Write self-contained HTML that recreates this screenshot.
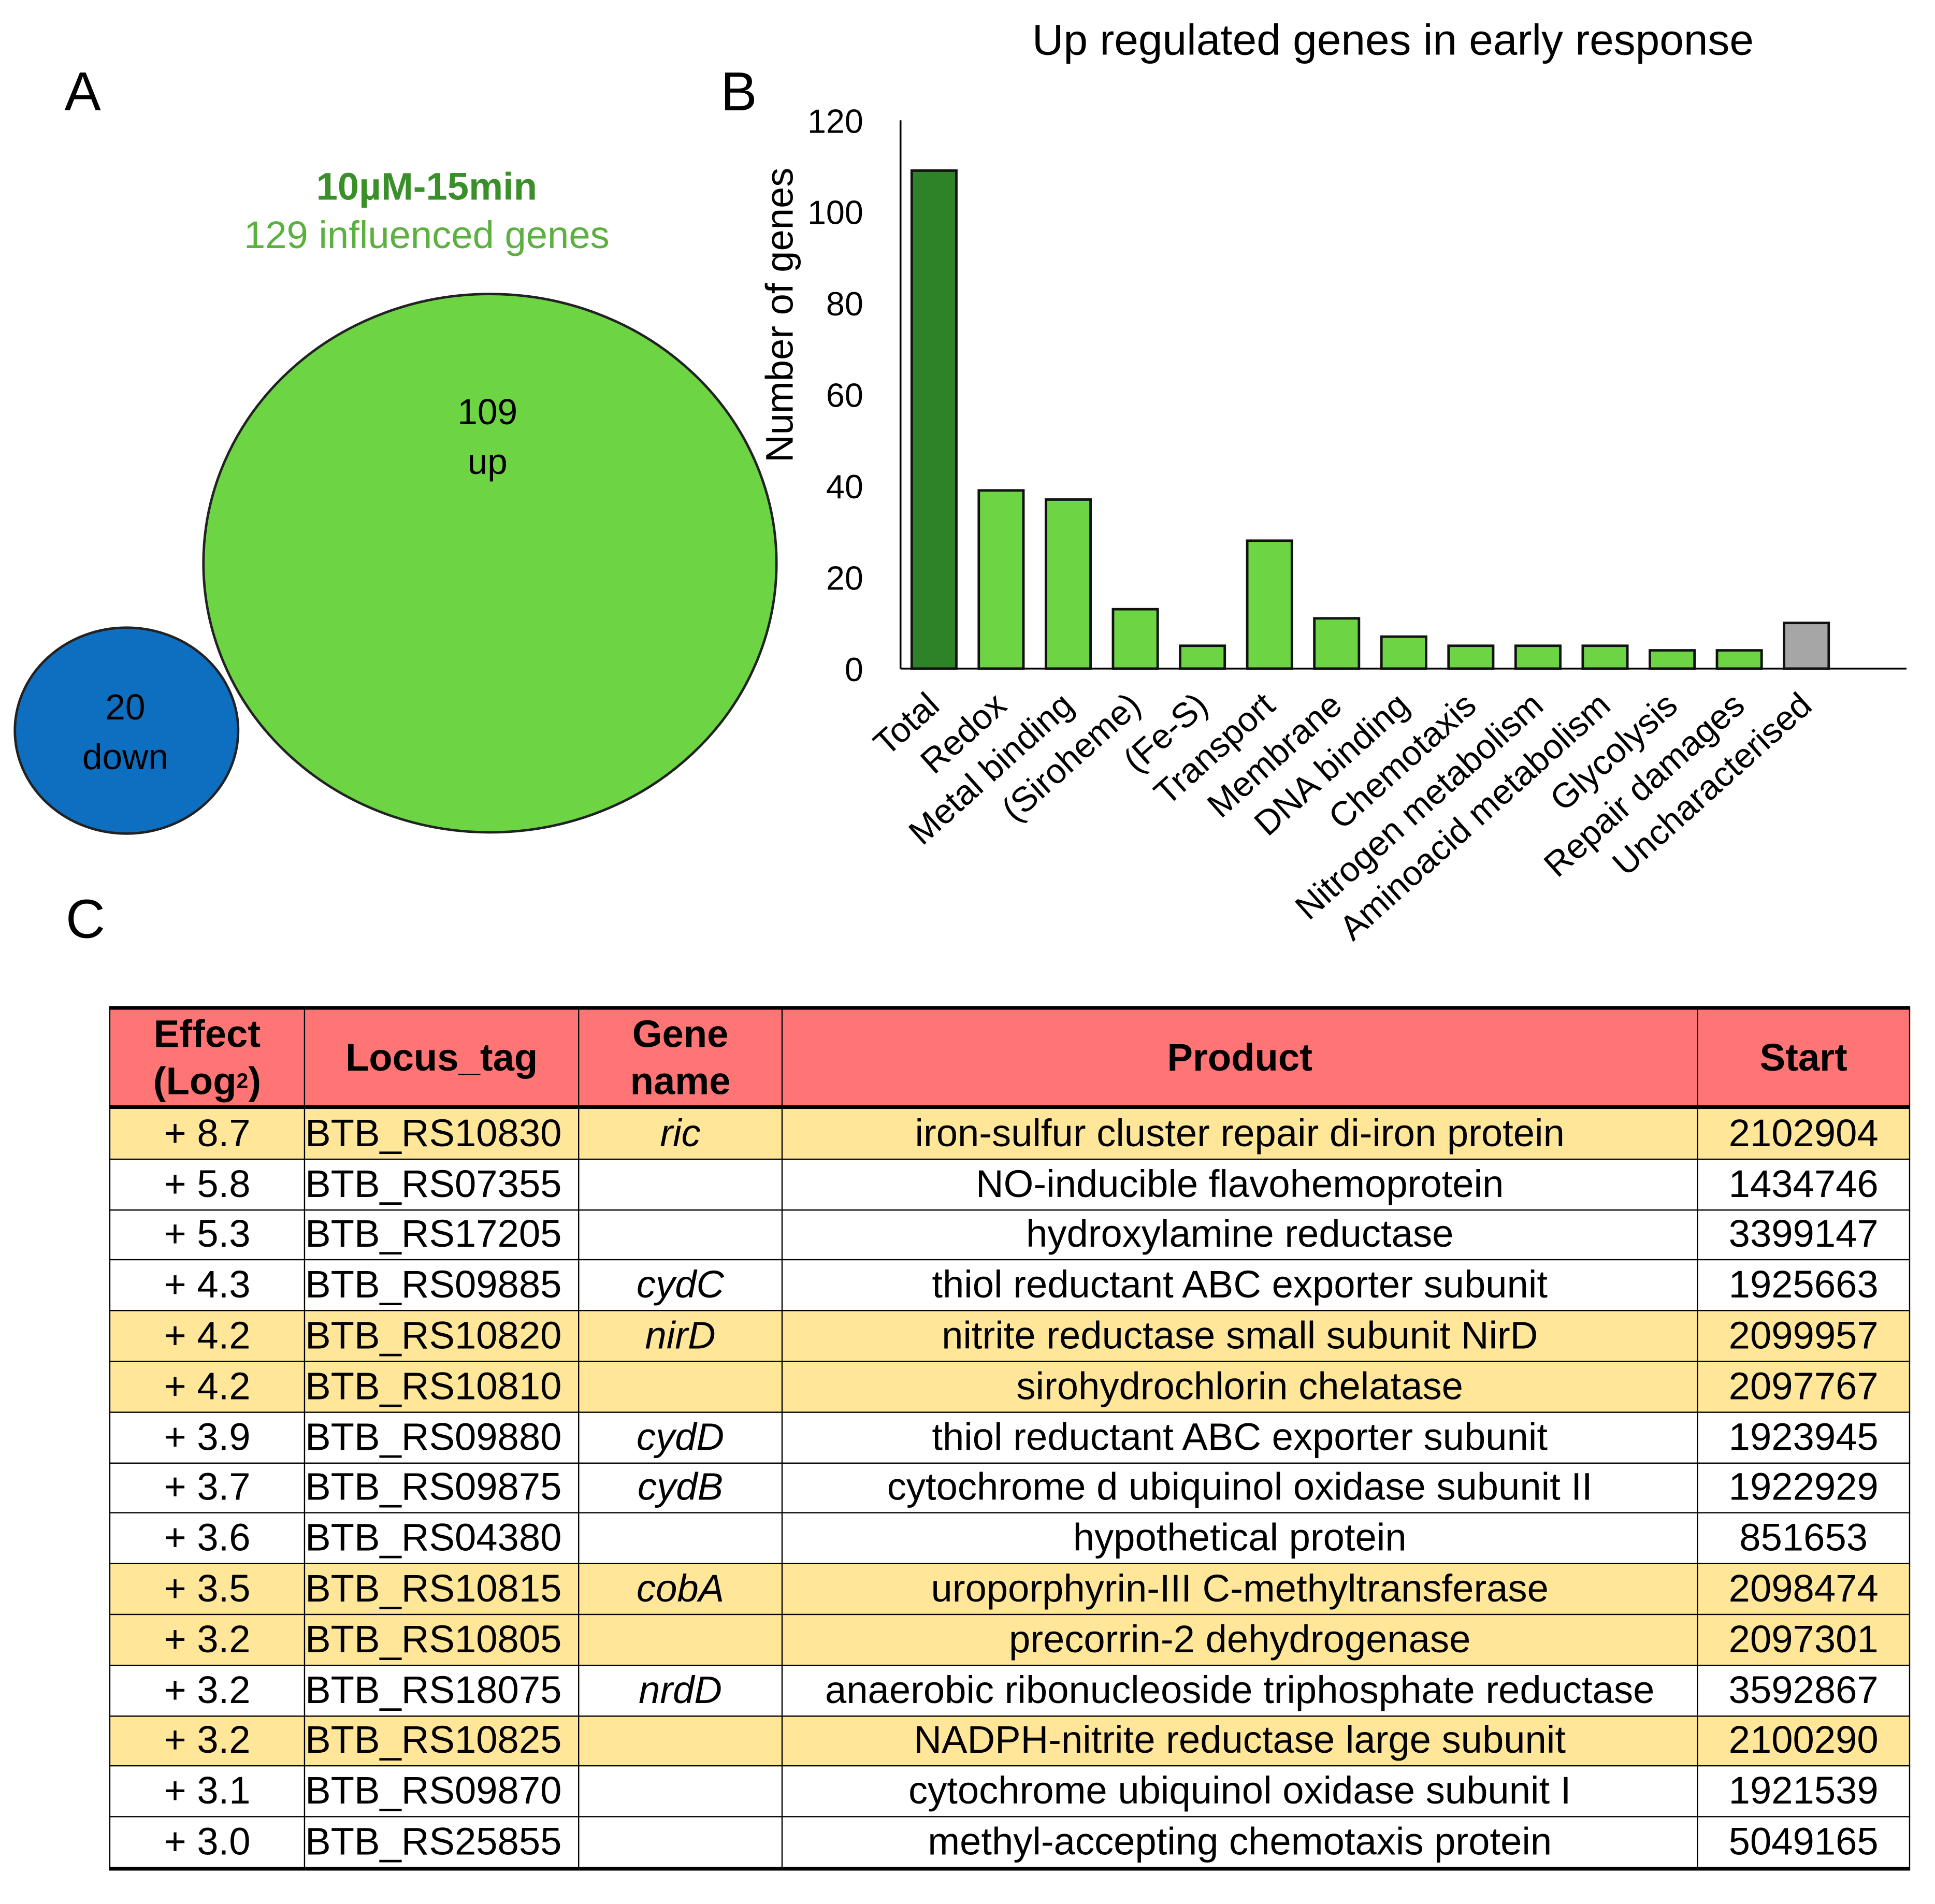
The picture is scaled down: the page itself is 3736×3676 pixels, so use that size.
<!DOCTYPE html>
<html><head><meta charset="utf-8"><style>
html,body{margin:0;padding:0;background:#fff;}
body{width:3736px;height:3675px;overflow:hidden;}
#w{position:absolute;left:0;top:0;width:1560px;height:1535px;transform:scale(2.3949);transform-origin:0 0;font-family:"Liberation Sans",sans-serif;}
.abs{position:absolute;}
table{border-collapse:collapse;position:absolute;left:88px;top:811px;width:1452px;font-size:31px;}
td,th{border:1.5px solid #000;padding:0;text-align:center;height:39.8px;line-height:30px;white-space:nowrap;}
th{background:#ff7575;font-weight:bold;height:77px;line-height:38px;border-top:3px solid #000;border-bottom:3px solid #000;font-size:31px;}
tr.h td{background:#ffe699;}
tr:last-child td{border-bottom:3px solid #000;}
td.l{text-align:left;}
</style></head><body><div id="w">
<div class="abs" style="left:52px;top:50px;font-size:44px;">A</div>
<div class="abs" style="left:581px;top:50px;font-size:44px;">B</div>
<div class="abs" style="left:53px;top:717px;font-size:44px;">C</div>

<svg class="abs" style="left:0;top:0" width="1560" height="800">
<text x="344" y="161" text-anchor="middle" font-size="31" font-weight="bold" fill="#3a8f2a">10µM-15min</text>
<text x="344" y="200" text-anchor="middle" font-size="31" fill="#5cb040">129 influenced genes</text>
<ellipse cx="395" cy="454" rx="231" ry="217" fill="#6dd444" stroke="#222" stroke-width="2"/>
<ellipse cx="102" cy="589" rx="90" ry="83" fill="#0e6fc1" stroke="#222" stroke-width="2"/>
<text x="393" y="342" text-anchor="middle" font-size="29">109</text>
<text x="393" y="382" text-anchor="middle" font-size="29">up</text>
<text x="101" y="580" text-anchor="middle" font-size="29">20</text>
<text x="101" y="620" text-anchor="middle" font-size="29">down</text>
<text x="1123" y="44" text-anchor="middle" font-size="35">Up regulated genes in early response</text>
<text transform="translate(639,254) rotate(-90)" text-anchor="middle" font-size="31">Number of genes</text>
<g id="chart"></g>
</svg>

<table>
<tr><th style="width:156px">Effect<br>(Log<span style="font-size:17px;vertical-align:top">2</span>)</th><th style="width:220px">Locus_tag</th><th style="width:163px">Gene<br>name</th><th style="width:737px">Product</th><th>Start</th></tr>
<tr class="h"><td>+ 8.7</td><td class="l">BTB_RS10830</td><td><i>ric</i></td><td>iron-sulfur cluster repair di-iron protein</td><td>2102904</td></tr>
<tr><td>+ 5.8</td><td class="l">BTB_RS07355</td><td></td><td>NO-inducible flavohemoprotein</td><td>1434746</td></tr>
<tr><td>+ 5.3</td><td class="l">BTB_RS17205</td><td></td><td>hydroxylamine reductase</td><td>3399147</td></tr>
<tr><td>+ 4.3</td><td class="l">BTB_RS09885</td><td><i>cydC</i></td><td>thiol reductant ABC exporter subunit</td><td>1925663</td></tr>
<tr class="h"><td>+ 4.2</td><td class="l">BTB_RS10820</td><td><i>nirD</i></td><td>nitrite reductase small subunit NirD</td><td>2099957</td></tr>
<tr class="h"><td>+ 4.2</td><td class="l">BTB_RS10810</td><td></td><td>sirohydrochlorin chelatase</td><td>2097767</td></tr>
<tr><td>+ 3.9</td><td class="l">BTB_RS09880</td><td><i>cydD</i></td><td>thiol reductant ABC exporter subunit</td><td>1923945</td></tr>
<tr><td>+ 3.7</td><td class="l">BTB_RS09875</td><td><i>cydB</i></td><td>cytochrome d ubiquinol oxidase subunit II</td><td>1922929</td></tr>
<tr><td>+ 3.6</td><td class="l">BTB_RS04380</td><td></td><td>hypothetical protein</td><td>851653</td></tr>
<tr class="h"><td>+ 3.5</td><td class="l">BTB_RS10815</td><td><i>cobA</i></td><td>uroporphyrin-III C-methyltransferase</td><td>2098474</td></tr>
<tr class="h"><td>+ 3.2</td><td class="l">BTB_RS10805</td><td></td><td>precorrin-2 dehydrogenase</td><td>2097301</td></tr>
<tr><td>+ 3.2</td><td class="l">BTB_RS18075</td><td><i>nrdD</i></td><td>anaerobic ribonucleoside triphosphate reductase</td><td>3592867</td></tr>
<tr class="h"><td>+ 3.2</td><td class="l">BTB_RS10825</td><td></td><td>NADPH-nitrite reductase large subunit</td><td>2100290</td></tr>
<tr><td>+ 3.1</td><td class="l">BTB_RS09870</td><td></td><td>cytochrome ubiquinol oxidase subunit I</td><td>1921539</td></tr>
<tr><td>+ 3.0</td><td class="l">BTB_RS25855</td><td></td><td>methyl-accepting chemotaxis protein</td><td>5049165</td></tr>
</table>
</div>
<script>
const categories=["Total","Redox","Metal binding","(Siroheme)","(Fe-S)","Transport","Membrane","DNA binding","Chemotaxis","Nitrogen metabolism","Aminoacid metabolism","Glycolysis","Repair damages","Uncharacterised"];
const values=[109,39,37,13,5,28,11,7,5,5,5,4,4,10];
const ticks=[0,20,40,60,80,100,120];
const colors=["#2e8228","#6dd444","#6dd444","#6dd444","#6dd444","#6dd444","#6dd444","#6dd444","#6dd444","#6dd444","#6dd444","#6dd444","#6dd444","#a6a6a6"];
const NS="http://www.w3.org/2000/svg";
const g=document.getElementById('chart');
const y0=539,yTop=97,ymax=120,x0=726,step=54.1,firstC=753,bw=36;
const Y=v=>y0-(v/ymax)*(y0-yTop);
const X=i=>firstC+i*step;
function mk(t,a){const e=document.createElementNS(NS,t);for(const k in a)e.setAttribute(k,a[k]);g.appendChild(e);return e;}
let ax=mk('line',{x1:x0,y1:yTop,x2:x0,y2:y0,stroke:'#000','stroke-width':1.5});


let bx=mk('line',{x1:x0,y1:y0,x2:1537,y2:y0,stroke:'#000','stroke-width':1.5});


ticks.forEach(t=>{const e=mk('text',{x:696,y:Y(t)+10,'text-anchor':'end','font-size':27});e.textContent=t;

});
values.forEach((v,i)=>{const r=mk('rect',{x:X(i)-bw/2,y:Y(v),width:bw,height:y0-Y(v),fill:colors[i],stroke:'#111','stroke-width':2});


const t=mk('text',{transform:`translate(${X(i)+6},${y0+32}) rotate(-42)`,'text-anchor':'end','font-size':28});t.textContent=categories[i];

});
</script>
</body></html>
